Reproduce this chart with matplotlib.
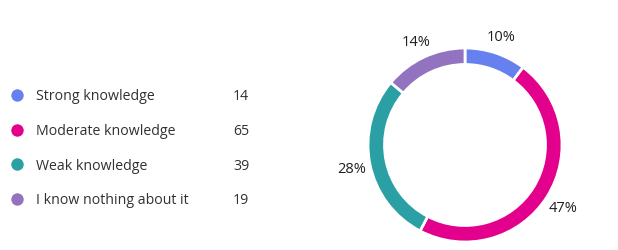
import matplotlib.pyplot as plt

labels = ["Strong knowledge", "Moderate knowledge", "Weak knowledge", "I know nothing about it"]
counts = [14, 65, 39, 19]
colors = ["#6780F0", "#E3008C", "#2AA0A4", "#9373C0"]

plt.rcParams['font.family'] = ['Open Sans', 'DejaVu Sans']

fig = plt.figure(figsize=(6.18, 2.5), dpi=100)
ax = fig.add_axes([0, 0, 1, 1])

wedges, texts, autotexts = ax.pie(
    counts, colors=colors, center=(465, 105), radius=97,
    startangle=90, counterclock=False,
    wedgeprops=dict(width=16.5, edgecolor="white", linewidth=2),
    autopct=lambda p: f"{p:.0f}%", pctdistance=1.19,
    textprops=dict(fontsize=10.5, color="#201F1E"),
    frame=True,
)
for t in autotexts:
    t.set_va("center_baseline")

# legend rows on the left
for i, (lab, n, c) in enumerate(zip(labels, counts, colors)):
    y = 155 - i * 34.5
    ax.scatter([17], [y], s=80, color=c, linewidths=0)
    ax.text(36, y, lab, fontsize=10.2, color="#323130", va="center_baseline", ha="left")
    ax.text(233, y, str(n), fontsize=10.2, color="#323130", va="center_baseline", ha="left")

ax.set_xlim(0, 618)
ax.set_ylim(0, 250)
ax.set_aspect("equal")
ax.axis("off")

fig.savefig("out.png", dpi=100)
